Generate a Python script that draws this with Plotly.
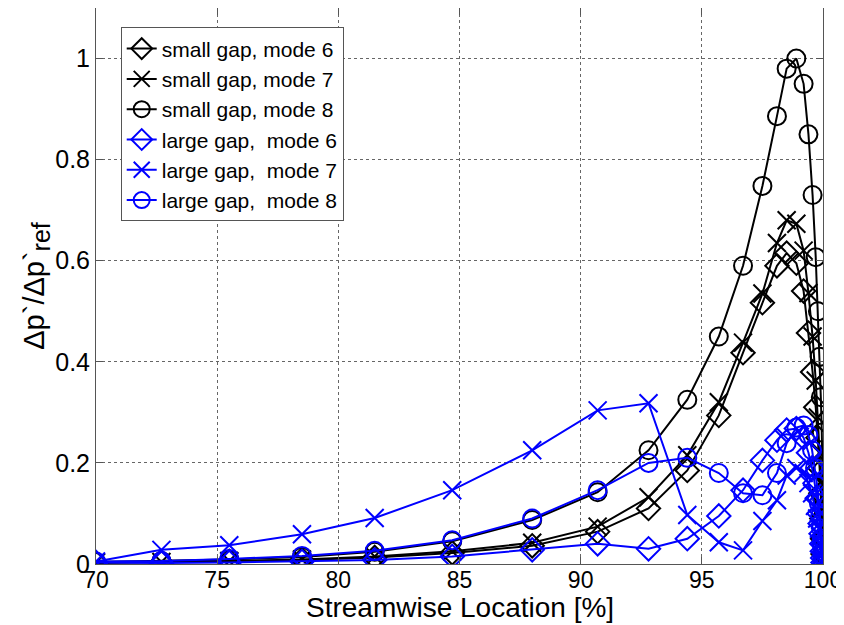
import plotly.graph_objects as go

x_small = [70, 72.7, 75.5, 78.5, 81.5, 84.7, 88.0, 90.7, 92.8, 94.4, 95.7, 96.7, 97.5, 98.1, 98.5,
           98.9, 99.2, 99.4, 99.57, 99.7, 99.79, 99.86, 99.91, 99.95, 99.98, 100.0]
small_mode6 = [0.002, 0.003, 0.005, 0.008, 0.013, 0.022, 0.036, 0.064, 0.11, 0.185, 0.294, 0.418, 0.517,
               0.59, 0.615, 0.595, 0.54, 0.457, 0.38, 0.31, 0.25, 0.19, 0.14, 0.09, 0.05, 0.02]
small_mode7 = [0.003, 0.004, 0.006, 0.009, 0.015, 0.025, 0.042, 0.074, 0.132, 0.215, 0.32, 0.438, 0.535,
               0.635, 0.68, 0.673, 0.62, 0.536, 0.45, 0.363, 0.29, 0.22, 0.16, 0.11, 0.07, 0.03]
small_mode8 = [0.004, 0.006, 0.009, 0.014, 0.024, 0.045, 0.087, 0.142, 0.225, 0.325, 0.45, 0.59, 0.748,
               0.886, 0.98, 1.0, 0.95, 0.85, 0.73, 0.607, 0.50, 0.41, 0.33, 0.26, 0.185, 0.11]

x_large = [70, 72.7, 75.5, 78.5, 81.5, 84.7, 88.0, 90.7, 92.8, 94.4, 95.7, 96.7, 97.5, 98.1, 98.5,
           98.9, 99.2, 99.4, 99.55, 99.67, 99.76, 99.83, 99.88, 99.92, 99.95, 99.97, 99.985, 100.0]
large_mode6 = [0.003, 0.002, 0.003, 0.005, 0.008, 0.015, 0.028, 0.04, 0.03, 0.05, 0.095, 0.146, 0.205,
               0.245, 0.265, 0.268, 0.25, 0.22, 0.19, 0.16, 0.13, 0.10, 0.08, 0.06, 0.04, 0.025, 0.012, 0.003]
large_mode7 = [0.005, 0.028, 0.037, 0.059, 0.091, 0.146, 0.225, 0.304, 0.318, 0.097, 0.043, 0.027, 0.085,
               0.126, 0.175, 0.19, 0.18, 0.16, 0.14, 0.115, 0.09, 0.07, 0.055, 0.04, 0.028, 0.018, 0.01, 0.003]
large_mode8 = [0.005, 0.006, 0.01, 0.016, 0.026, 0.047, 0.09, 0.146, 0.2, 0.21, 0.18, 0.14, 0.136,
               0.18, 0.239, 0.27, 0.274, 0.255, 0.225, 0.19, 0.155, 0.12, 0.095, 0.07, 0.05, 0.032, 0.018, 0.005]

names = ["small gap, mode 6", "small gap, mode 7", "small gap, mode 8",
         "large gap,\u00a0 mode 6", "large gap,\u00a0 mode 7", "large gap,\u00a0 mode 8"]

series = [
    (x_small, small_mode6, "black", "diamond-open"),
    (x_small, small_mode7, "black", "x-thin-open"),
    (x_small, small_mode8, "black", "circle-open"),
    (x_large, large_mode6, "#0000ff", "diamond-open"),
    (x_large, large_mode7, "#0000ff", "x-thin-open"),
    (x_large, large_mode8, "#0000ff", "circle-open"),
]

fig = go.Figure()
for (xs, ys, col, sym), nm in zip(series, names):
    fig.add_trace(go.Scatter(
        x=xs, y=ys, mode="lines+markers", name=nm,
        line=dict(color=col, width=2),
        marker=dict(symbol=sym, size=18, color=col, line=dict(color=col, width=2)),
    ))

font_family = "Liberation Sans, Arial, sans-serif"
# page body has an 8px default margin, so the figure is sized to fit the window
fig.update_layout(
    width=836, height=617,
    margin=dict(l=88, r=21, t=0, b=61),
    paper_bgcolor="white", plot_bgcolor="white",
    font=dict(family=font_family, size=24, color="black"),
    showlegend=True,
    legend=dict(x=0.034, y=0.965, xanchor="left", yanchor="top",
                bgcolor="white", bordercolor="#555", borderwidth=1,
                font=dict(size=21), itemwidth=30, tracegroupgap=0),
    xaxis=dict(range=[70, 100], tickvals=[70, 75, 80, 85, 90, 95, 100],
               automargin=False,
               showgrid=True, gridcolor="#666", griddash="dot", gridwidth=1,
               showline=True, linecolor="#555", linewidth=1, mirror="ticks",
               ticks="inside", ticklen=7, tickcolor="#555", zeroline=False,
               tickfont=dict(size=23), ticklabelstandoff=-5),
    yaxis=dict(range=[0, 1.1], tickvals=[0, 0.2, 0.4, 0.6, 0.8, 1],
               ticktext=["0", "0.2", "0.4", "0.6", "0.8", "1"],
               automargin=False,
               showgrid=True, gridcolor="#666", griddash="dot", gridwidth=1,
               showline=True, linecolor="#555", linewidth=1, mirror="ticks",
               ticks="inside", ticklen=7, tickcolor="#555", zeroline=False,
               tickfont=dict(size=25),
               title=dict(text="Δp`/Δp`<sub><span style='font-size:25px'>ref</span></sub>",
                          font=dict(size=29), standoff=0)),
    annotations=[dict(text="Streamwise Location [%]", xref="paper", yref="paper",
                      x=0.5, y=-0.079, xanchor="center", yanchor="middle",
                      showarrow=False, font=dict(size=28))],
)

fig.write_html("out.html")
